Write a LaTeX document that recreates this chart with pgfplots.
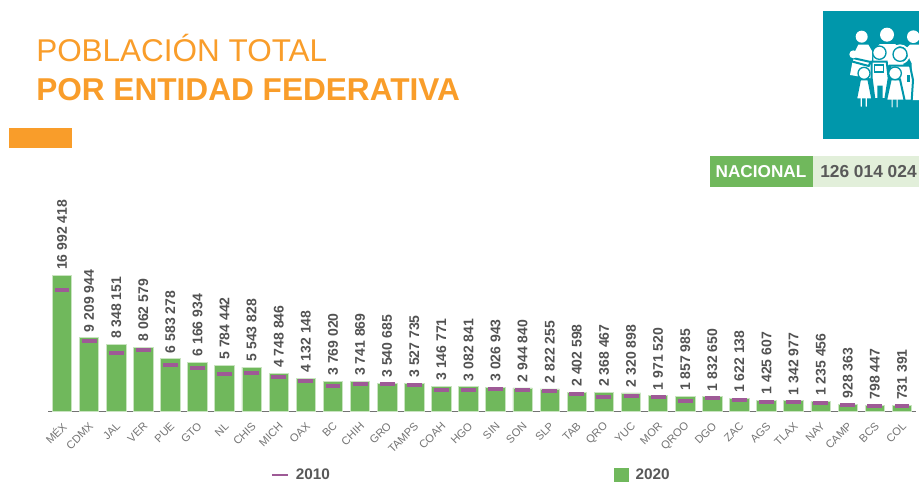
\documentclass[border=0pt]{standalone}
\usepackage{fontspec}
\setmainfont{Liberation Sans}
\usepackage{pgfplots}
\pgfplotsset{compat=1.18}
\definecolor{naranja}{HTML}{F99D2A}
\definecolor{verde}{HTML}{70B85C}
\definecolor{verdeclaro}{HTML}{C9E4C0}
\definecolor{verdefondo}{HTML}{E2EFDA}
\definecolor{morado}{HTML}{9E5A96}
\definecolor{teal}{HTML}{0097AB}
\definecolor{textogris}{HTML}{595959}

\begin{document}
% 1 px of the reference = 0.75pt, y runs downward
\begin{tikzpicture}[x=0.75pt,y=-0.75pt]
\path[use as bounding box] (0,0) rectangle (919,482);

% title block
\node[anchor=base west,inner sep=0,text=naranja] at (36,61.7) {\fontsize{23.6}{26}\selectfont POBLACIÓN TOTAL};
\node[anchor=base west,inner sep=0,text=naranja] at (36,100) {\fontsize{23.7}{26}\selectfont\bfseries POR ENTIDAD FEDERATIVA};
\fill[naranja] (9,128) rectangle (72,147.5);

% icon
\fill[teal] (822.5,11) rectangle (919,139);
\begin{scope}
\clip (822.5,11) rectangle (919,139);
\begin{scope}[shift={(840,20)},x=0.25pt,y=-0.25pt]
% back row
\fill[white] (65,50) circle (18);
\fill[white] (141,44) circle (21);
\fill[white] (220,50) circle (19);
\fill[white] (100,90) -- (120,72) -- (165,72) -- (185,92) -- (190,135) -- (100,135) -- cycle;
\fill[white] (195,88) -- (210,74) -- (240,74) -- (240,240) -- (215,240) -- (215,130) -- cycle;
\fill[white] (30,165) -- (42,100) -- (55,74) -- (85,74) -- (97,95) -- (92,175) -- cycle;
% baby
\filldraw[white,draw=teal,line width=1.5pt] (38,114) -- (92,126) -- (86,138) -- (34,124) -- cycle;
\fill[white] (40,103) circle (12);
% middle person
\filldraw[white,draw=teal,line width=1.5pt] (95,125) -- (140,125) -- (146,175) -- (136,237) -- (125,237) -- (125,200) -- (115,200) -- (115,237) -- (103,237) -- (95,175) -- cycle;
\filldraw[white,draw=teal,line width=1pt] (118,98) circle (20);
\filldraw[white,draw=teal,line width=1pt] (103,135) rectangle (130,156);
% woman with headset
\filldraw[white,draw=teal,line width=1.5pt] (150,137) -- (210,137) -- (219,180) -- (215,242) -- (150,242) -- cycle;
\draw[white,line width=1.4pt] (180,103) circle (27);
\filldraw[white,draw=teal,line width=1pt] (180,103) circle (21);
\fill[teal] (201,165) rectangle (209,185);
% children
\filldraw[white,draw=teal,line width=1.5pt] (60,178) -- (85,178) -- (97,238) -- (84,238) -- (84,263) -- (74,263) -- (74,238) -- (69,238) -- (69,263) -- (59,263) -- (59,238) -- (48,238) -- cycle;
\filldraw[white,draw=teal,line width=1pt] (72,160) circle (18);
\filldraw[white,draw=teal,line width=1.5pt] (152,178) -- (180,178) -- (194,242) -- (176,242) -- (176,265) -- (167,265) -- (167,242) -- (161,242) -- (161,265) -- (152,265) -- (152,242) -- (138,242) -- cycle;
\filldraw[white,draw=teal,line width=1pt] (165,160) circle (19);
\end{scope}
\end{scope}

% national total
\fill[verdefondo] (709.5,156) rectangle (919,187);
\fill[verde] (709.5,156) rectangle (813,187);
\node[text=white,inner sep=0] at (761,172) {\fontsize{12.9}{15}\selectfont\bfseries NACIONAL};
\node[text=textogris,inner sep=0,anchor=west] at (820,172) {\fontsize{13}{15}\selectfont\bfseries 126 014 024};

\begin{axis}[
  at={(36pt,-308.625pt)},
  anchor=south west,
  scale only axis,
  width=651pt,
  height=120pt,
  xmin=-0.517, xmax=31.517,
  ymin=0, ymax=20000000,
  axis x line=bottom,
  axis y line=none,
  axis line style={-,draw=black!55,line width=1pt},
  major tick length=0pt,
  xtick={0,1,...,31},
  xticklabels={MÉX,CDMX,JAL,VER,PUE,GTO,NL,CHIS,MICH,OAX,BC,CHIH,GRO,TAMPS,COAH,HGO,SIN,SON,SLP,TAB,QRO,YUC,MOR,QROO,DGO,ZAC,AGS,TLAX,NAY,CAMP,BCS,COL},
  x tick label style={rotate=45,anchor=east,inner sep=0pt,yshift=-8pt,xshift=-5.5pt,
    font=\fontsize{8.3}{10}\selectfont,text=black!55},
  clip=false,
  reverse legend,
  legend columns=2,
  legend cell align=left,
  legend style={at={(0.256,-0.397)},anchor=west,draw=none,fill=none,inner sep=0pt,
    font=\fontsize{11.5}{13}\selectfont\bfseries,text=textogris,
    /tikz/every odd column/.append style={column sep=3pt},
    /tikz/every even column/.append style={column sep=211pt}},
]
\addplot[ybar,bar width=14.6pt,bar shift=0pt,fill=verde,draw=verdeclaro,line width=0.6pt,
  area legend,
  legend image code/.code={\fill[verde,draw=none] (0pt,-5.6pt) rectangle (11.25pt,5.6pt);},
  point meta=explicit symbolic,
  nodes near coords,
  every node near coord/.style={rotate=90,anchor=west,inner sep=0pt,
    shift={(4pt,0pt)},font=\fontsize{10.5}{12}\selectfont\bfseries,text=black!68},
] coordinates {
  (0,16992418)[16 992 418] (1,9209944)[9 209 944] (2,8348151)[8 348 151] (3,8062579)[8 062 579]
  (4,6583278)[6 583 278] (5,6166934)[6 166 934] (6,5784442)[5 784 442] (7,5543828)[5 543 828]
  (8,4748846)[4 748 846] (9,4132148)[4 132 148] (10,3769020)[3 769 020] (11,3741869)[3 741 869]
  (12,3540685)[3 540 685] (13,3527735)[3 527 735] (14,3146771)[3 146 771] (15,3082841)[3 082 841]
  (16,3026943)[3 026 943] (17,2944840)[2 944 840] (18,2822255)[2 822 255] (19,2402598)[2 402 598]
  (20,2368467)[2 368 467] (21,2320898)[2 320 898] (22,1971520)[1 971 520] (23,1857985)[1 857 985]
  (24,1832650)[1 832 650] (25,1622138)[1 622 138] (26,1425607)[1 425 607] (27,1342977)[1 342 977]
  (28,1235456)[1 235 456] (29,928363)[928 363] (30,798447)[798 447] (31,731391)[731 391]
};
\addlegendentry{2020}
\addplot[only marks,mark=-,mark size=5.6pt,mark options={draw=morado,line width=3pt},
  legend image code/.code={\draw[morado,line width=2pt] (0pt,0pt) -- (12pt,0pt);},
] coordinates {
  (0,15175000) (1,8851000) (2,7351000) (3,7643000) (4,5780000) (5,5486000) (6,4653000) (7,4797000)
  (8,4351000) (9,3802000) (10,3155000) (11,3406000) (12,3389000) (13,3269000) (14,2748000) (15,2665000)
  (16,2768000) (17,2662000) (18,2586000) (19,2239000) (20,1828000) (21,1956000) (22,1777000) (23,1326000)
  (24,1633000) (25,1491000) (26,1185000) (27,1170000) (28,1085000) (29,822000) (30,637000) (31,651000)
};
\addlegendentry{2010}
\end{axis}
\end{tikzpicture}
\end{document}
